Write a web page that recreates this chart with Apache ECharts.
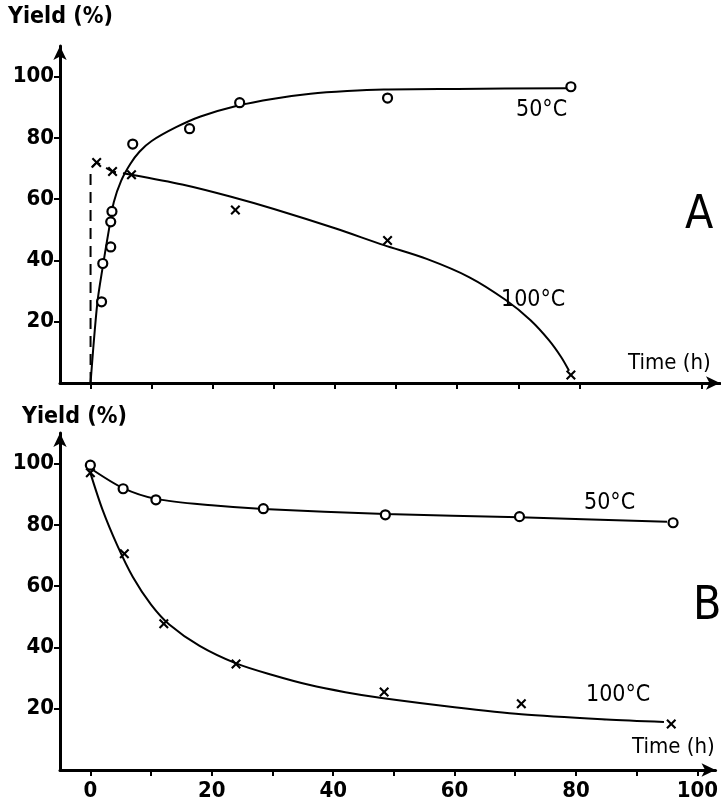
<!DOCTYPE html>
<html><head><meta charset="utf-8">
<script src="https://cdn.jsdelivr.net/npm/echarts@6/dist/echarts.min.js"></script>
<style>html,body{margin:0;background:#fff}#c{width:721px;height:808px}</style>
</head><body><div id="c"></div>
<script>
const xTicksA = [0, 10, 20, 30, 40, 50, 60, 70, 80, 100];
const xTicksB = [0, 10, 20, 30, 40, 50, 60, 70, 80, 90, 100];
const xLabelsB = [0, 20, 40, 60, 80, 100];
const yTicks = [20, 40, 60, 80, 100];

// Panel A, 50 °C
const a50Points = [[1.8, 26.5], [2, 39], [3.3, 44.4], [3.3, 52.6], [3.5, 56], [6.9, 78], [16.2, 83], [24.4, 91.5], [48.6, 93], [78.6, 96.7]];
const a50Curve = [[0, 0], [1.1, 26], [2, 38], [3, 50], [3.8, 59], [5, 66], [6.5, 71.5], [8, 75.5], [10, 79], [14, 83.5], [18, 87], [24, 90.5], [30, 92.8], [36, 94.4], [42, 95.3], [48, 95.8], [60, 96], [78, 96.2]];
// Panel A, 100 °C
const a100Points = [[1, 72], [3.6, 69], [6.7, 68], [23.7, 56.5], [48.6, 46.5], [78.6, 2.6]];
const a100Dashed = [[0, 0], [0, 70], [1, 72], [3.6, 69], [6.7, 68]];
const a100Curve = [[6.7, 68], [15, 64.8], [23, 60.8], [30, 56.8], [40, 50.5], [48, 45], [55, 40.5], [62, 34.5], [68, 27], [72, 20.5], [75, 14], [77, 8.5], [78.3, 4]];
// Panel B, 50 °C
const b50Points = [[0, 99.5], [5.4, 91.8], [10.8, 88.2], [28.5, 85.3], [48.6, 83.3], [70.7, 82.7], [96, 80.7]];
const b50Curve = [[0, 98.5], [5.4, 92], [10.8, 88.5], [20, 86.4], [28.5, 85.2], [48.6, 83.6], [70.7, 82.5], [95, 81]];
// Panel B, 100 °C
const b100Points = [[0, 97], [5.6, 70.6], [12.1, 47.7], [24, 34.6], [48.4, 25.5], [71, 21.6], [95.7, 15]];
const b100Curve = [[0, 97], [2, 85], [4.4, 73.5], [7, 63], [10, 54], [13, 47.5], [18, 40.5], [24, 34.8], [30, 31], [36, 27.8], [42, 25.4], [48, 23.5], [60, 20.5], [71, 18.2], [85, 16.5], [94.5, 15.7]];

const FONT = '"DejaVu Sans Condensed", "DejaVu Sans", sans-serif';
const crossPath = 'path://M0,1.5L1.5,0L5,3.5L8.5,0L10,1.5L6.5,5L10,8.5L8.5,10L5,6.5L1.5,10L0,8.5L3.5,5Z';

function xAxis(grid, ticks, labels) {
  return {
    gridIndex: grid, type: 'value', min: -5, max: 103,
    axisLine: { show: true, onZero: false, symbol: ['none', 'arrow'], symbolSize: [10, 14], lineStyle: { color: '#000', width: 3 } },
    axisTick: { show: true, customValues: ticks, length: 6, lineStyle: { color: '#000', width: 2 } },
    axisLabel: labels ? { show: true, customValues: labels, color: '#000', fontSize: 22, fontWeight: 'bold', fontFamily: FONT, margin: 10 } : { show: false },
    splitLine: { show: false }
  };
}
function yAxis(grid) {
  return {
    gridIndex: grid, type: 'value', min: 0, max: 110,
    axisLine: { show: true, onZero: false, symbol: ['none', 'arrow'], symbolSize: [10, 14], lineStyle: { color: '#000', width: 3 } },
    axisTick: { show: true, customValues: yTicks, length: 6, lineStyle: { color: '#000', width: 2 } },
    axisLabel: { show: true, customValues: yTicks, color: '#000', fontSize: 22, fontWeight: 'bold', fontFamily: FONT, margin: 6 },
    splitLine: { show: false }
  };
}
function curve(idx, data, dashed) {
  return {
    type: 'line', xAxisIndex: idx, yAxisIndex: idx, data: data, symbol: 'none',
    smooth: dashed ? false : 0.3,
    lineStyle: { color: '#000', width: 2, type: dashed ? [11, 7] : 'solid' }, z: 2, silent: true
  };
}
function circles(idx, data) {
  return { type: 'scatter', xAxisIndex: idx, yAxisIndex: idx, data: data, symbol: 'circle', symbolSize: 9,
    itemStyle: { color: '#fff', borderColor: '#000', borderWidth: 2.2, opacity: 1 }, z: 3, silent: true };
}
function crosses(idx, data) {
  return { type: 'scatter', xAxisIndex: idx, yAxisIndex: idx, data: data, symbol: crossPath, symbolSize: 10,
    itemStyle: { color: '#000', opacity: 1 }, z: 3, silent: true };
}
function txt(x, y, s, size, weight) {
  return { type: 'text', x: x, y: y, style: { text: s, fill: '#000', fontSize: size, fontFamily: FONT, fontWeight: weight || 'normal', verticalAlign: 'middle' } };
}

const chart = echarts.init(document.getElementById('c'));
chart.setOption({
  animation: false,
  backgroundColor: '#fff',
  grid: [
    { left: 60, top: 46, width: 660, height: 337 },
    { left: 60, top: 433, width: 660, height: 337 }
  ],
  xAxis: [xAxis(0, xTicksA, null), xAxis(1, xTicksB, xLabelsB)],
  yAxis: [yAxis(0), yAxis(1)],
  series: [
    curve(0, a50Curve), circles(0, a50Points),
    curve(0, a100Dashed, true), curve(0, a100Curve), crosses(0, a100Points),
    curve(1, b50Curve), circles(1, b50Points),
    curve(1, b100Curve), crosses(1, b100Points)
  ],
  graphic: [
    txt(8, 17, 'Yield (%)', 23, 'bold'),
    txt(22, 417, 'Yield (%)', 23, 'bold'),
    txt(628, 363, 'Time (h)', 22),
    txt(632, 747, 'Time (h)', 22),
    txt(516, 110, '50°C', 23),
    txt(501, 300, '100°C', 23),
    txt(584, 503, '50°C', 23),
    txt(586, 695, '100°C', 23),
    txt(685, 216, 'A', 46, 200),
    txt(693, 607, 'B', 46, 200)
  ]
});
</script></body></html>
